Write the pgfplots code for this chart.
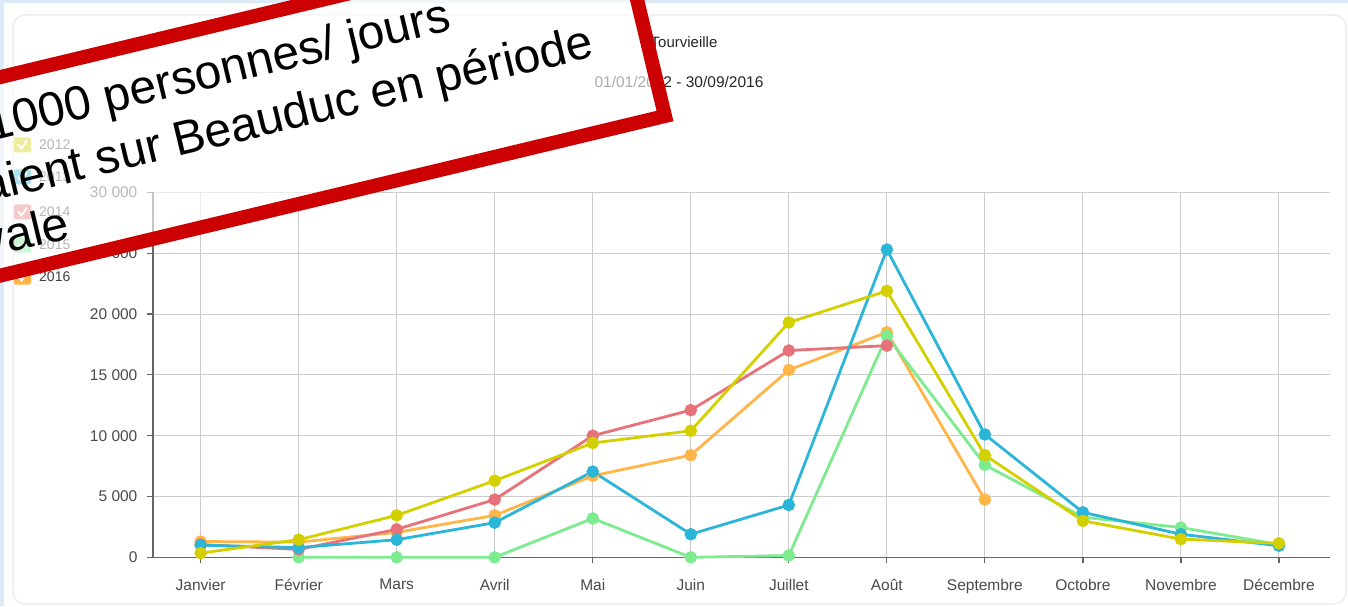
\documentclass[border=0pt]{standalone}
\usepackage{pgfplots}
\pgfplotsset{compat=1.18}
\usepackage{fontspec}
\setmainfont{Liberation Sans}
\definecolor{cY}{HTML}{D4D000}
\definecolor{cB}{HTML}{2BB5D8}
\definecolor{cR}{HTML}{E8727A}
\definecolor{cG}{HTML}{7DEB8F}
\definecolor{cO}{HTML}{FFB547}
\definecolor{bgblue}{HTML}{DCE9F7}
\definecolor{boxred}{HTML}{CC0000}
\definecolor{axgray}{HTML}{666666}
\definecolor{lblgray}{HTML}{4A4A4A}
\begin{document}
\begin{tikzpicture}[x=1pt,y=1pt]
\useasboundingbox (0,0) rectangle (1348,606);
\clip (0,0) rectangle (1348,606);
\fill[bgblue] (0,0) rectangle (1348,606);
\fill[white] (4,0) rectangle (1348,603);
\draw[black!7, line width=1.5pt, rounded corners=12pt] (13,2) rectangle (1346,591);
\node[text=black!85, font=\fontsize{15}{18}\selectfont, inner sep=0pt] at (684,564) {Tourvieille};
\node[text=black!85, font=\fontsize{15.5}{18}\selectfont, inner sep=0pt] at (679,524) {01/01/2012 - 30/09/2016};
% legend
\foreach \yy/\cc/\lab in {461/cY/2012, 429/cB/2013, 394/cR/2014, 361/cG/2015, 329/cO/2016}{
  \fill[\cc, rounded corners=1.5pt] (14,\yy-7.5) rectangle (31,\yy+7.5);
  \draw[white, line width=1.8pt] (18,\yy+0.5) -- (21.5,\yy-3.5) -- (27,\yy+4.5);
  \node[anchor=west, inner sep=0pt, text=black!75, font=\fontsize{14}{16}\selectfont] at (39,\yy) {\lab};
}
\begin{axis}[at={(156,40)}, anchor=south west, scale only axis,
  width=1177pt, height=365pt,
  xmin=-0.487, xmax=11.52, ymin=0, ymax=30000,
  scaled y ticks=false,
  axis lines=left, axis line style={-, draw=axgray, line width=1.6pt},
  xtick={0,...,11},
  xticklabels={Janvier,Février,Mars,Avril,Mai,Juin,Juillet,Août,Septembre,Octobre,Novembre,Décembre},
  ytick={0,5000,10000,15000,20000,25000,30000},
  yticklabels={0,5 000,10 000,15 000,20 000,25 000,30 000},
  grid=major, major grid style={black!20, line width=1pt},
  tick align=outside, major tick length=6pt,
  tick style={axgray, line width=1.2pt},
  ticklabel style={text=lblgray, font=\fontsize{15.5}{18}\selectfont},
  xticklabel style={yshift=-12pt},
  yticklabel style={xshift=-6pt},
  clip=false,
  every axis plot/.append style={line width=2.8pt, mark=*, mark size=4.8pt, mark options={solid}},
]
% 2016
\addplot[cO, mark options={fill=cO, draw=cO}] coordinates {
 (0,1300) (1,1250) (2,2050) (3,3450) (4,6700) (5,8400) (6,15400) (7,18500) (8,4750)};
% 2015
\addplot[cG, mark options={fill=cG, draw=cG}] coordinates {
 (1,0) (2,0) (3,0) (4,3200) (5,0) (6,150) (7,18200) (8,7600) (9,3300) (10,2450) (11,1050)};
% 2014
\addplot[cR, mark options={fill=cR, draw=cR}] coordinates {
 (0,1050) (1,650) (2,2300) (3,4750) (4,10000) (5,12100) (6,17000) (7,17400)};
% 2013
\addplot[cB, mark options={fill=cB, draw=cB}] coordinates {
 (0,1000) (1,800) (2,1450) (3,2850) (4,7050) (5,1900) (6,4300) (7,25300) (8,10100) (9,3700) (10,1900) (11,950)};
% 2012
\addplot[cY, mark options={fill=cY, draw=cY}] coordinates {
 (0,350) (1,1450) (2,3450) (3,6300) (4,9400) (5,10400) (6,19300) (7,21900) (8,8400) (9,3000) (10,1500) (11,1150)};
\end{axis}
% overlay box
\begin{scope}[shift={(665,490)}, rotate=13.5]
\fill[white, fill opacity=0.62] (-1000,0) rectangle (0,193);
\draw[boxred, line width=14pt, line join=miter] (-1000,0) rectangle (0,193);
\node[anchor=base west, inner sep=0pt, transform shape, font=\fontsize{48}{58}\selectfont] at (-661.5,133) {1000 personnes/ jours};
\node[anchor=base west, inner sep=0pt, transform shape, font=\fontsize{48}{58}\selectfont] at (-681,74) {aient sur Beauduc en période};
\node[anchor=base west, inner sep=0pt, transform shape, font=\fontsize{48}{58}\selectfont] at (-694,20) {vale};
\end{scope}
\end{tikzpicture}
\end{document}
